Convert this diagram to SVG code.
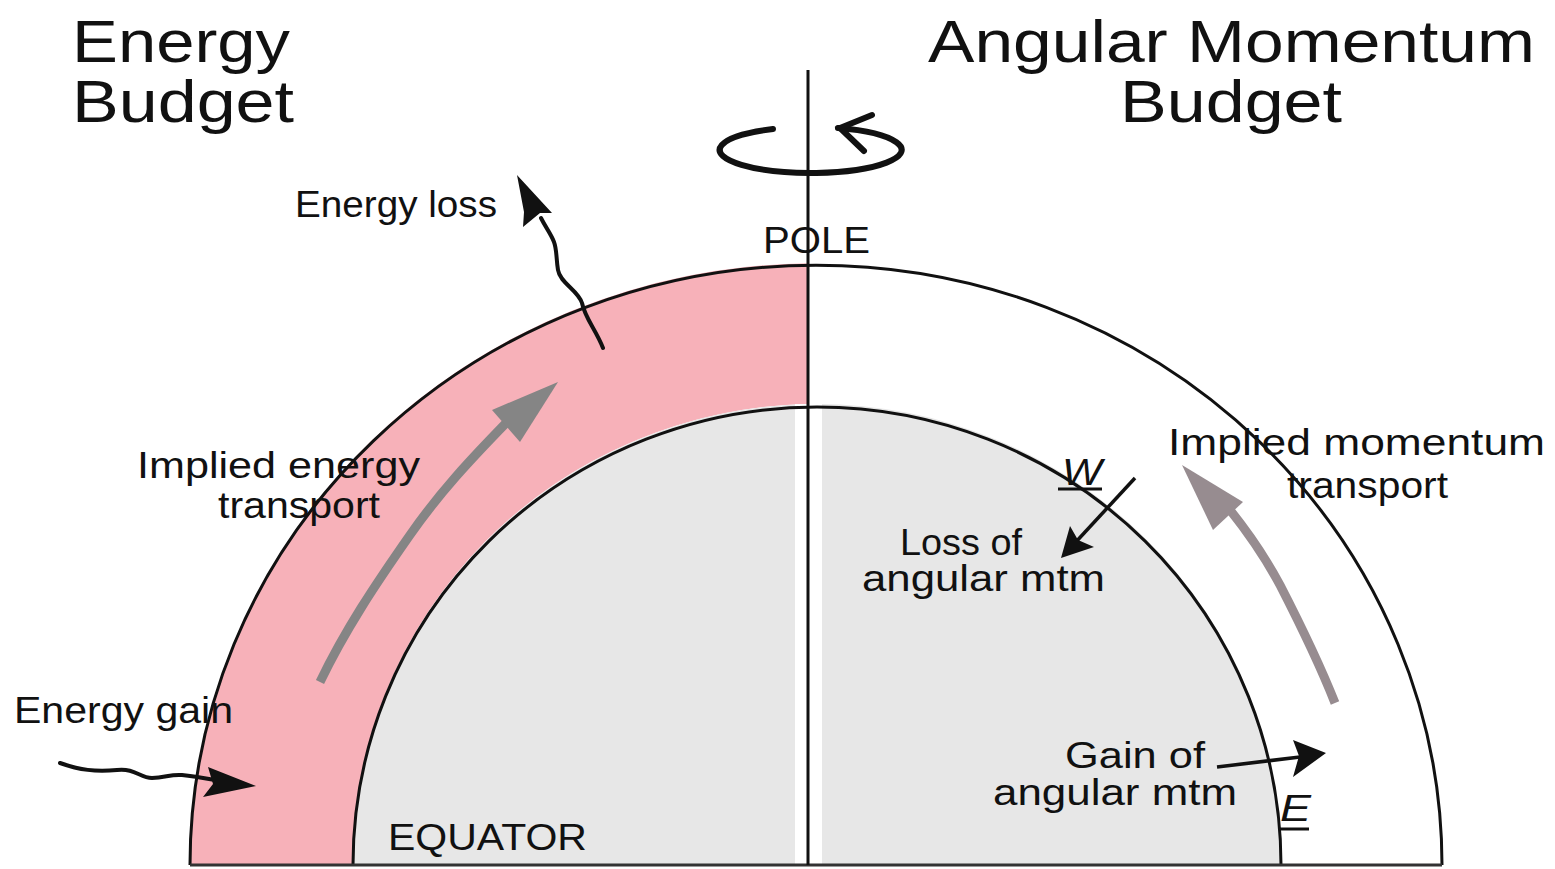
<svg xmlns="http://www.w3.org/2000/svg" width="1555" height="869" viewBox="0 0 1555 869">
<defs>
<style>
text{font-family:"Liberation Sans",Arial,sans-serif;fill:#111}
.title{font-size:60px}
.lbl{font-size:36px}
.edge{fill:none;stroke:#111;stroke-width:3}
.wig{fill:none;stroke:#111;stroke-width:4;stroke-linecap:round;stroke-linejoin:round}
.head{fill:#111}
</style>
</defs>
<rect width="1555" height="869" fill="#fff"/>
<g id="shell">
<path d="M808,263.2 A626,600 0 0 0 190,865 L353,865 A464,458 0 0 1 808,404 Z" fill="#f7b1b9"/>
<path d="M353,865 A464,458 0 0 1 817,404 A464,458 0 0 1 1281,865 Z" fill="#e7e7e7"/>
<rect x="795" y="404" width="27" height="461" fill="#fff"/>
<path class="edge" d="M190,865 A626,600 0 0 1 1442,865"/>
<path class="edge" d="M353,865 A464,458 0 0 1 1281,865"/>
<line x1="190" y1="865" x2="1442" y2="865" stroke="#333" stroke-width="3"/>
<line x1="808" y1="70" x2="808" y2="865" stroke="#111" stroke-width="3"/>
</g>
<g id="rotation">
<path d="M773,129 A91,23 0 1 0 838,128" fill="none" stroke="#111" stroke-width="6" stroke-linecap="round"/>
<path d="M872,115 L840,128 L864,151" fill="none" stroke="#111" stroke-width="6" stroke-linecap="round"/>
</g>
<g id="titles">
<text class="title" x="72" y="62" textLength="218" lengthAdjust="spacingAndGlyphs">Energy</text>
<text class="title" x="72" y="122" textLength="222" lengthAdjust="spacingAndGlyphs">Budget</text>
<text class="title" x="928" y="62" textLength="607" lengthAdjust="spacingAndGlyphs">Angular Momentum</text>
<text class="title" x="1120" y="122" textLength="222" lengthAdjust="spacingAndGlyphs">Budget</text>
</g>
<g id="labels">
<text class="lbl" x="295" y="217" textLength="202" lengthAdjust="spacingAndGlyphs">Energy loss</text>
<text class="lbl" x="763" y="253" textLength="107" lengthAdjust="spacingAndGlyphs">POLE</text>
<text class="lbl" x="137" y="478" textLength="283" lengthAdjust="spacingAndGlyphs">Implied energy</text>
<text class="lbl" x="218" y="518" textLength="162" lengthAdjust="spacingAndGlyphs">transport</text>
<text class="lbl" x="14" y="723" textLength="219" lengthAdjust="spacingAndGlyphs">Energy gain</text>
<text class="lbl" x="388" y="850" textLength="199" lengthAdjust="spacingAndGlyphs">EQUATOR</text>
<text class="lbl" x="1168" y="455" textLength="377" lengthAdjust="spacingAndGlyphs">Implied momentum</text>
<text class="lbl" x="1287" y="498" textLength="161" lengthAdjust="spacingAndGlyphs">transport</text>
<text class="lbl" x="900" y="555" textLength="122" lengthAdjust="spacingAndGlyphs">Loss of</text>
<text class="lbl" x="862" y="591" textLength="243" lengthAdjust="spacingAndGlyphs">angular mtm</text>
<text class="lbl" x="1065" y="768" textLength="140" lengthAdjust="spacingAndGlyphs">Gain of</text>
<text class="lbl" x="993" y="805" textLength="244" lengthAdjust="spacingAndGlyphs">angular mtm</text>
<text class="lbl" x="1062" y="485" font-style="italic" textLength="40" lengthAdjust="spacingAndGlyphs">W</text>
<line x1="1058" y1="489" x2="1102" y2="489" stroke="#111" stroke-width="3"/>
<text class="lbl" x="1280" y="821" font-style="italic" textLength="31" lengthAdjust="spacingAndGlyphs">E</text>
<line x1="1279" y1="829" x2="1309" y2="829" stroke="#111" stroke-width="3"/>
</g>
<g id="connectors">
<path class="wig" d="M603,348 C596,330 585,318 582,303 C578,290 560,283 558,270 C556,258 557,250 554,242 C551,234 546,228 541,218"/>
<path class="head" d="M517,175 L552,213 L540,213 L523,227 L524,212 Z"/>
<path class="wig" d="M60,763 C80,770 95,772 117,770 C135,768 140,778 152,778 C165,778 170,774 182,775 C192,776 198,777 215,780"/>
<path class="head" d="M256,786 L203,797 L213,784 L208,767 Z"/>
<path d="M320,682 C345,630 375,585 410,535 C440,492 470,460 508,421" fill="none" stroke="#858585" stroke-width="9"/>
<path d="M558,382 L492,410 L520,442 Z" fill="#858585"/>
<path d="M1335,703 C1318,660 1298,620 1280,585 C1265,557 1250,535 1230,510" fill="none" stroke="#978c90" stroke-width="9"/>
<path d="M1182,465 L1213,530 L1243,502 Z" fill="#978c90"/>
<line x1="1135" y1="478" x2="1074" y2="544" stroke="#111" stroke-width="3.5"/>
<path class="head" d="M1061,558 L1070,526 L1078,540 L1094,547 Z"/>
<line x1="1217" y1="767" x2="1300" y2="757" stroke="#111" stroke-width="3.5"/>
<path class="head" d="M1326,753 L1293,740 L1299,756 L1293,777 Z"/>
</g>
</svg>
